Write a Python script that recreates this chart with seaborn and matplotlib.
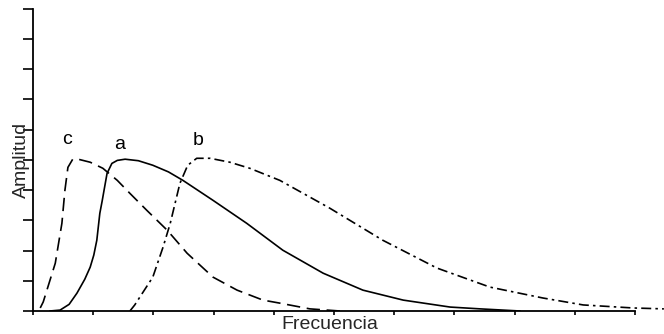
import matplotlib
matplotlib.use("Agg")
import matplotlib.pyplot as plt
import seaborn as sns
import numpy as np

# ---- data ----
freq_a = [0.28, 0.45, 0.60, 0.73, 0.86, 0.95, 1.01, 1.06, 1.11, 1.15, 1.18, 1.23,
          1.31, 1.40, 1.53, 1.75, 1.99, 2.25, 2.49, 2.99, 3.55, 4.15, 4.82, 5.48,
          6.15, 6.93, 7.43, 8.09]
amp_a = [0.00, 0.03, 0.22, 0.59, 1.05, 1.45, 1.85, 2.34, 3.23, 3.65, 3.99, 4.55,
         4.88, 4.98, 5.02, 4.97, 4.82, 4.60, 4.32, 3.66, 2.90, 2.01, 1.25, 0.69,
         0.36, 0.13, 0.07, 0.00]

freq_b = [1.61, 1.69, 1.99, 2.16, 2.28, 2.44, 2.57, 2.72, 2.94, 3.27, 3.60, 4.10,
          4.93, 5.81, 6.71, 7.59, 8.47, 9.14, 9.97, 10.48]
amp_b = [0.00, 0.20, 1.12, 2.11, 2.90, 4.22, 4.82, 5.05, 5.05, 4.92, 4.72, 4.32,
         3.40, 2.34, 1.42, 0.79, 0.43, 0.20, 0.10, 0.07]

freq_c = [0.12, 0.17, 0.37, 0.48, 0.53, 0.58, 0.66, 0.75, 0.95, 1.16, 1.40, 1.61,
          1.89, 2.23, 2.56, 2.99, 3.39, 3.82, 4.10, 4.60, 5.10]
amp_c = [0.10, 0.30, 1.58, 2.90, 3.99, 4.75, 5.02, 5.02, 4.92, 4.72, 4.32, 3.89,
         3.33, 2.67, 1.91, 1.12, 0.69, 0.36, 0.26, 0.07, 0.00]

curve_labels = ["a", "b", "c"]
label_pos_x = [1.445, 2.74, 0.56]
label_pos_y = [5.37, 5.50, 5.53]

x_label = "Frecuencia"
y_label = "Amplitud"

# ---- style ----
sns.set_style("ticks")
plt.rcParams["font.family"] = ["Liberation Sans", "DejaVu Sans"]

fig = plt.figure(figsize=(6.64, 3.34), dpi=100)
ax = fig.add_axes([33 / 664, 23 / 334, 631 / 664, 303 / 334])

lw = 1.2
sns.lineplot(x=freq_a, y=amp_a, ax=ax, color="black", lw=lw, linestyle="-")
sns.lineplot(x=freq_b, y=amp_b, ax=ax, color="black", lw=lw,
             linestyle=(0, (6, 2.5, 1.5, 2.5)))
sns.lineplot(x=freq_c, y=amp_c, ax=ax, color="black", lw=lw,
             linestyle=(0, (8, 4)))

for lab, lx, ly in zip(curve_labels, label_pos_x, label_pos_y):
    ax.text(lx, ly, lab, ha="center", va="baseline", fontsize=14, color="black")

ax.set_xlim(0, 631 / 60.2)
ax.set_ylim(0, 10.02)
ax.spines["top"].set_visible(False)
ax.spines["right"].set_visible(False)
ax.spines["bottom"].set_bounds(0, 10)
ax.spines["left"].set_bounds(0, 10)
for s in ("bottom", "left"):
    ax.spines[s].set_linewidth(1.3)
    ax.spines[s].set_color("black")

ax.set_xticks(np.arange(0, 11, 1))
ax.set_yticks(np.arange(0, 11, 1))
ax.set_xticklabels([])
ax.set_yticklabels([])
ax.tick_params(axis="y", direction="out", length=7, width=1.2, color="black")
ax.tick_params(axis="x", direction="out", length=3, width=1.2, color="black")

ax.set_xlabel(x_label, fontsize=14)
ax.set_ylabel(y_label, fontsize=14)
ax.xaxis.set_label_coords((330 - 33) / 631, -0.015)
ax.yaxis.set_label_coords(-0.005, 0.5)

fig.savefig("out.png", dpi=100)
